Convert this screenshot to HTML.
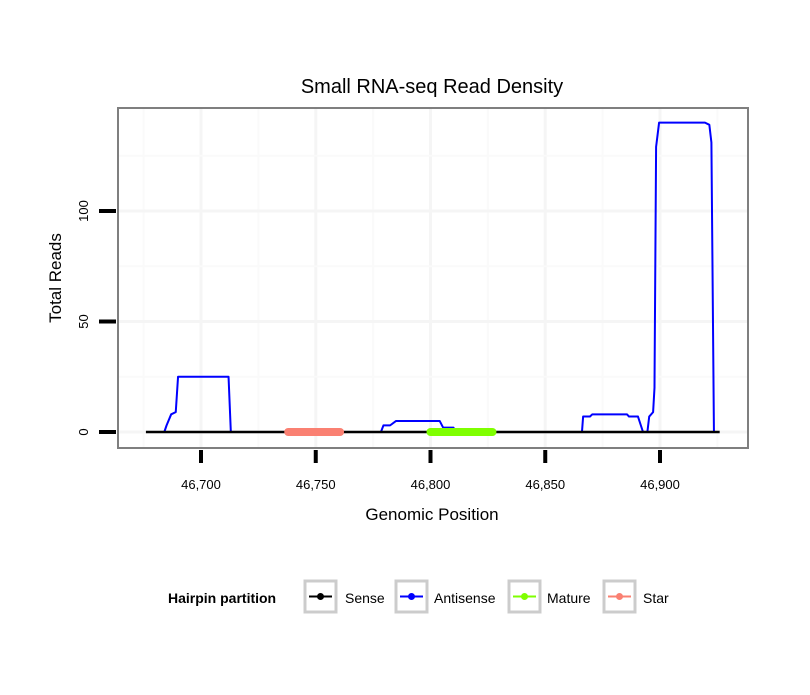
<!DOCTYPE html>
<html><head><meta charset="utf-8"><style>
body{margin:0;background:#fff;}
svg text{font-family:"Liberation Sans",sans-serif;}
</style></head><body>
<svg width="810" height="690" xmlns="http://www.w3.org/2000/svg">
<rect width="810" height="690" fill="#fff"/>
<text x="432" y="93" font-size="20" text-anchor="middle">Small RNA-seq Read Density</text>
<g id="grid"></g>
<g id="marks"></g>
<rect x="118" y="108" width="630" height="340" fill="none" stroke="#7f7f7f" stroke-width="2"/>
<g id="axes"></g>
<text x="432" y="520" font-size="17" text-anchor="middle">Genomic Position</text>
<text transform="translate(61,278) rotate(-90)" font-size="17" text-anchor="middle">Total Reads</text>
<g>
<text x="168" y="603" font-size="14" font-weight="bold">Hairpin partition</text>
<g><rect x="305" y="581" width="31" height="31" fill="#fff" stroke="#cccccc" stroke-width="3"/><line x1="309" y1="596.5" x2="332" y2="596.5" stroke="#000" stroke-width="2"/><circle cx="320.5" cy="596.5" r="3.5" fill="#000"/><text x="345" y="603" font-size="14">Sense</text></g>
<g><rect x="396" y="581" width="31" height="31" fill="#fff" stroke="#cccccc" stroke-width="3"/><line x1="400" y1="596.5" x2="423" y2="596.5" stroke="#0000ff" stroke-width="2"/><circle cx="411.5" cy="596.5" r="3.5" fill="#0000ff"/><text x="434" y="603" font-size="14">Antisense</text></g>
<g><rect x="509" y="581" width="31" height="31" fill="#fff" stroke="#cccccc" stroke-width="3"/><line x1="513" y1="596.5" x2="536" y2="596.5" stroke="#7fff00" stroke-width="2"/><circle cx="524.5" cy="596.5" r="3.5" fill="#7fff00"/><text x="547" y="603" font-size="14">Mature</text></g>
<g><rect x="604" y="581" width="31" height="31" fill="#fff" stroke="#cccccc" stroke-width="3"/><line x1="608" y1="596.5" x2="631" y2="596.5" stroke="#fa8072" stroke-width="2"/><circle cx="619.5" cy="596.5" r="3.5" fill="#fa8072"/><text x="643" y="603" font-size="14">Star</text></g>
</g>
</svg>
<script>
const xTicks=[46700,46750,46800,46850,46900];
const xTickLabels=["46,700","46,750","46,800","46,850","46,900"];
const yTicks=[0,50,100];
const yTickLabels=["0","50","100"];
const yMinor=[25,75,125];
const xMinor=[46675,46725,46775,46825,46875,46925];
const antisensePos=[46684,46685,46687,46689,46690,46712,46713,
46778.4,46779.5,46782.4,46785,46804,46805.5,46810,46811,
46863,46866,46866.5,46869.5,46870.5,46885.6,46886.5,46890.4,46892.6,46894.5,46895.3,46897,46897.6,46898.3,46899.6,46919.6,46921.5,46922.4,46923.5];
const antisenseVal=[0,3,8,9,25,25,0,
0,3,3,5,5,2,2,0,
0,0,7,7,8,8,7,7,0,0,7,9,20,129,140,140,139,131,0];
const sensePos=[46676,46926];
const senseVal=[0,0];
const starRange=[46738,46760.6];
const matureRange=[46800,46827];
const NS="http://www.w3.org/2000/svg";
const X=v=>201+(v-46700)*2.295;
const Y=v=>432-v*2.21;
function mk(t,a,p){const e=document.createElementNS(NS,t);for(const k in a)e.setAttribute(k,a[k]);p.appendChild(e);return e;}
const grid=document.getElementById('grid'),marks=document.getElementById('marks'),axes=document.getElementById('axes');
xMinor.forEach(v=>{if(X(v)>118&&X(v)<748){const l=mk('line',{x1:X(v),x2:X(v),y1:109,y2:447,stroke:'#fafafa','stroke-width':2},grid);

}});
xTicks.forEach(v=>{const l=mk('line',{x1:X(v),x2:X(v),y1:109,y2:447,stroke:'#f5f5f5','stroke-width':3},grid);

});
yMinor.forEach(v=>{const l=mk('line',{x1:119,x2:747,y1:Y(v),y2:Y(v),stroke:'#fafafa','stroke-width':2},grid);

});
yTicks.forEach(v=>{const l=mk('line',{x1:119,x2:747,y1:Y(v),y2:Y(v),stroke:'#f5f5f5','stroke-width':3},grid);

});
const al=mk('polyline',{points:antisensePos.map((p,i)=>X(p)+','+Y(antisenseVal[i])).join(' '),fill:'none',stroke:'#0000ff','stroke-width':2,'stroke-linejoin':'round'},marks);


const sl=mk('polyline',{points:sensePos.map((p,i)=>X(p)+','+Y(senseVal[i])).join(' '),fill:'none',stroke:'#000','stroke-width':2.5},marks);


const st=mk('line',{x1:X(starRange[0]),x2:X(starRange[1]),y1:Y(0),y2:Y(0),stroke:'#fa8072','stroke-width':8,'stroke-linecap':'round'},marks);


const mt=mk('line',{x1:X(matureRange[0]),x2:X(matureRange[1]),y1:Y(0),y2:Y(0),stroke:'#7fff00','stroke-width':8,'stroke-linecap':'round'},marks);


xTicks.forEach((v,i)=>{const t=mk('line',{x1:X(v),x2:X(v),y1:450,y2:463,stroke:'#000','stroke-width':4},axes);


const tx=mk('text',{x:X(v),y:489,'font-size':13,'text-anchor':'middle'},axes);tx.textContent=xTickLabels[i];

});
yTicks.forEach((v,i)=>{const t=mk('line',{x1:99,x2:116,y1:Y(v),y2:Y(v),stroke:'#000','stroke-width':4},axes);


const tx=mk('text',{transform:`translate(88,${Y(v)}) rotate(-90)`,'font-size':13,'text-anchor':'middle'},axes);tx.textContent=yTickLabels[i];

});
</script>
</body></html>
